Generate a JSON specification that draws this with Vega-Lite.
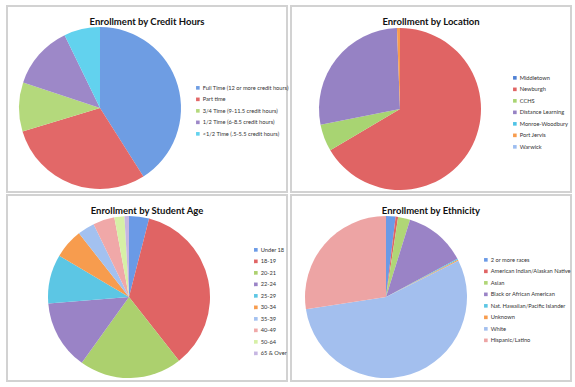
{
  "$schema": "https://vega.github.io/schema/vega-lite/v6.json",
  "padding": {"left": 6, "top": 5, "right": 0, "bottom": 0},
  "background": "white",
  "bounds": "flush",
  "columns": 2,
  "spacing": {"row": 3, "column": 4},
  "datasets": {
    "credit": [
      {"category": "Full Time (12 or more credit hours)", "share": 41.0},
      {"category": "Part time", "share": 29.3},
      {"category": "3/4 Time (9-11.5 credit hours)", "share": 9.8},
      {"category": "1/2 Time (6-8.5 credit hours)", "share": 12.7},
      {"category": "<1/2 Time (.5-5.5 credit hours)", "share": 7.2}
    ],
    "location": [
      {"category": "Middletown", "share": 0},
      {"category": "Newburgh", "share": 66.5},
      {"category": "CCHS", "share": 5.4},
      {"category": "Distance Learning", "share": 27.5},
      {"category": "Monroe-Woodbury", "share": 0},
      {"category": "Port Jervis", "share": 0.6},
      {"category": "Warwick", "share": 0}
    ],
    "age": [
      {"category": "Under 18", "share": 4.0},
      {"category": "18-19", "share": 35.4},
      {"category": "20-21", "share": 20.5},
      {"category": "22-24", "share": 13.8},
      {"category": "25-29", "share": 9.8},
      {"category": "30-34", "share": 5.9},
      {"category": "35-39", "share": 3.4},
      {"category": "40-49", "share": 4.3},
      {"category": "50-64", "share": 2.0},
      {"category": "65 & Over", "share": 0.9}
    ],
    "ethnicity": [
      {"category": "2 or more races", "share": 1.9},
      {"category": "American Indian/Alaskan Native", "share": 0.5},
      {"category": "Asian", "share": 2.4},
      {"category": "Black or African American", "share": 12.4},
      {"category": "Nat. Hawaiian/Pacific Islander", "share": 0.2},
      {"category": "Unknown", "share": 0.2},
      {"category": "White", "share": 55.0},
      {"category": "Hispanic/Latino", "share": 27.4}
    ]
  },
  "config": {
    "view": {"stroke": "#d2d2d2", "strokeWidth": 2},
    "font": "Lato",
    "title": {"font": "Lato", "fontSize": 9.5, "fontWeight": "bold", "color": "#111111", "anchor": "middle", "offset": -20},
    "legend": {
      "orient": "none", "padding": 0, "labelFont": "Lato", "labelFontSize": 5.7, "labelColor": "#333333",
      "symbolType": "square", "symbolSize": 13, "symbolStrokeWidth": 0, "rowPadding": 4.5, "labelOffset": 2, "title": null, "labelLimit": 200
    }
  },
  "resolve": {"scale": {"color": "independent"}, "legend": {"color": "independent"}},
  "concat": [
    {
      "title": "Enrollment by Credit Hours",
      "width": 280, "height": 186,
      "view": {"stroke": "#d2d2d2", "strokeWidth": 2},
      "data": {"name": "credit"},
      "transform": [{"window": [{"op": "row_number", "as": "idx"}]}],
      "mark": {"type": "arc", "outerRadius": 81, "x": 93, "y": 102},
      "encoding": {
        "theta": {"field": "share", "type": "quantitative", "stack": true},
        "order": {"field": "idx", "type": "quantitative", "sort": "ascending"},
        "color": {
          "field": "category", "type": "nominal",
          "scale": {
            "domain": ["Full Time (12 or more credit hours)", "Part time", "3/4 Time (9-11.5 credit hours)", "1/2 Time (6-8.5 credit hours)", "<1/2 Time (.5-5.5 credit hours)"],
            "range": ["#6e9de3", "#e26868", "#b4d97c", "#9d88c8", "#62d2ee"]
          },
          "legend": {"legendX": 188, "legendY": 79}
        }
      }
    },
    {
      "title": "Enrollment by Location",
      "width": 280, "height": 186,
      "view": {"stroke": "#d2d2d2", "strokeWidth": 2},
      "data": {"name": "location"},
      "transform": [{"window": [{"op": "row_number", "as": "idx"}]}],
      "mark": {"type": "arc", "outerRadius": 81, "x": 109, "y": 103},
      "encoding": {
        "theta": {"field": "share", "type": "quantitative", "stack": true},
        "order": {"field": "idx", "type": "quantitative", "sort": "ascending"},
        "color": {
          "field": "category", "type": "nominal",
          "scale": {
            "domain": ["Middletown", "Newburgh", "CCHS", "Distance Learning", "Monroe-Woodbury", "Port Jervis", "Warwick"],
            "range": ["#4f81d4", "#e06464", "#a8d472", "#9682c4", "#4fc3e6", "#f79c4e", "#9dbdf0"]
          },
          "legend": {"legendX": 221, "legendY": 69}
        }
      }
    },
    {
      "title": "Enrollment by Student Age",
      "width": 280, "height": 186,
      "view": {"stroke": "#d2d2d2", "strokeWidth": 2},
      "data": {"name": "age"},
      "transform": [{"window": [{"op": "row_number", "as": "idx"}]}],
      "mark": {"type": "arc", "outerRadius": 81, "x": 122, "y": 102},
      "encoding": {
        "theta": {"field": "share", "type": "quantitative", "stack": true},
        "order": {"field": "idx", "type": "quantitative", "sort": "ascending"},
        "color": {
          "field": "category", "type": "nominal",
          "scale": {
            "domain": ["Under 18", "18-19", "20-21", "22-24", "25-29", "30-34", "35-39", "40-49", "50-64", "65 & Over"],
            "range": ["#6a9ae6", "#e06464", "#acd06e", "#9a83c6", "#5cc6e4", "#f79c4e", "#a3c1f0", "#f0a8a8", "#d6f0a6", "#c6b6e2"]
          },
          "legend": {"legendX": 246, "legendY": 52}
        }
      }
    },
    {
      "title": "Enrollment by Ethnicity",
      "width": 280, "height": 186,
      "view": {"stroke": "#d2d2d2", "strokeWidth": 2},
      "data": {"name": "ethnicity"},
      "transform": [{"window": [{"op": "row_number", "as": "idx"}]}],
      "mark": {"type": "arc", "outerRadius": 81, "x": 95, "y": 102},
      "encoding": {
        "theta": {"field": "share", "type": "quantitative", "stack": true},
        "order": {"field": "idx", "type": "quantitative", "sort": "ascending"},
        "color": {
          "field": "category", "type": "nominal",
          "scale": {
            "domain": ["2 or more races", "American Indian/Alaskan Native", "Asian", "Black or African American", "Nat. Hawaiian/Pacific Islander", "Unknown", "White", "Hispanic/Latino"],
            "range": ["#6a9ae6", "#e06464", "#b0d676", "#9a83c6", "#5cc6e4", "#f79c4e", "#a3bfee", "#eda4a4"]
          },
          "legend": {"legendX": 192, "legendY": 62}
        }
      }
    }
  ]
}
